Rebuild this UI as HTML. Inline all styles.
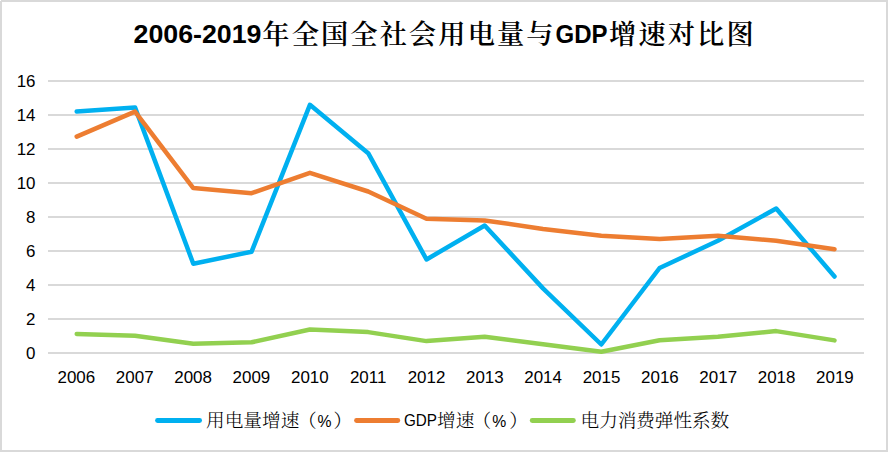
<!DOCTYPE html>
<html lang="zh-CN">
<head>
<meta charset="utf-8">
<title>2006-2019年全国全社会用电量与GDP增速对比图</title>
<style>
html,body{margin:0;padding:0;background:#fff;}
body{width:888px;height:452px;overflow:hidden;}
svg{display:block;}
.lat{font-family:"Liberation Sans",sans-serif;}
.cjk{font-family:"Liberation Serif","Noto Serif CJK SC",serif;}
</style>
</head>
<body>
<svg width="888" height="452" viewBox="0 0 888 452">
<rect x="0" y="0" width="888" height="452" fill="#ffffff"/>
<rect x="1" y="1" width="886" height="450" fill="none" stroke="#d9d9d9" stroke-width="2"/>
<rect x="0" y="0" width="1" height="1" fill="#ffffff"/>

<g stroke="#d9d9d9" stroke-width="2">
<line x1="48" y1="353.0" x2="864" y2="353.0"/>
<line x1="48" y1="319.0" x2="864" y2="319.0"/>
<line x1="48" y1="285.0" x2="864" y2="285.0"/>
<line x1="48" y1="251.0" x2="864" y2="251.0"/>
<line x1="48" y1="217.0" x2="864" y2="217.0"/>
<line x1="48" y1="183.0" x2="864" y2="183.0"/>
<line x1="48" y1="149.0" x2="864" y2="149.0"/>
<line x1="48" y1="115.0" x2="864" y2="115.0"/>
<line x1="48" y1="81.0" x2="864" y2="81.0"/>
</g>
<g class="lat" font-size="16" fill="#000" text-anchor="end">
<text transform="translate(35.5,358.7) scale(1.06,1)">0</text>
<text transform="translate(35.5,324.7) scale(1.06,1)">2</text>
<text transform="translate(35.5,290.7) scale(1.06,1)">4</text>
<text transform="translate(35.5,256.7) scale(1.06,1)">6</text>
<text transform="translate(35.5,222.7) scale(1.06,1)">8</text>
<text transform="translate(35.5,188.7) scale(1.06,1)">10</text>
<text transform="translate(35.5,154.7) scale(1.06,1)">12</text>
<text transform="translate(35.5,120.7) scale(1.06,1)">14</text>
<text transform="translate(35.5,86.7) scale(1.06,1)">16</text>
</g>
<g class="lat" font-size="16" fill="#000" text-anchor="middle">
<text transform="translate(76.3,383) scale(1.06,1)">2006</text>
<text transform="translate(134.7,383) scale(1.06,1)">2007</text>
<text transform="translate(193.1,383) scale(1.06,1)">2008</text>
<text transform="translate(251.4,383) scale(1.06,1)">2009</text>
<text transform="translate(309.8,383) scale(1.06,1)">2010</text>
<text transform="translate(368.1,383) scale(1.06,1)">2011</text>
<text transform="translate(426.5,383) scale(1.06,1)">2012</text>
<text transform="translate(484.8,383) scale(1.06,1)">2013</text>
<text transform="translate(543.1,383) scale(1.06,1)">2014</text>
<text transform="translate(601.5,383) scale(1.06,1)">2015</text>
<text transform="translate(659.9,383) scale(1.06,1)">2016</text>
<text transform="translate(718.2,383) scale(1.06,1)">2017</text>
<text transform="translate(776.6,383) scale(1.06,1)">2018</text>
<text transform="translate(834.9,383) scale(1.06,1)">2019</text>
</g>
<g fill="none" stroke-width="4.5" stroke-linecap="round" stroke-linejoin="round">
<polyline stroke="#00b0f0" points="76.7,111.6 135.0,107.4 193.3,263.8 251.6,251.7 309.9,104.8 368.2,153.2 426.5,259.5 484.7,225.5 543.0,288.4 601.3,344.5 659.6,268.0 717.9,240.8 776.2,208.5 834.5,276.5"/>
<polyline stroke="#ed7d31" points="76.7,136.6 135.0,111.6 193.3,188.1 251.6,193.2 309.9,172.8 368.2,191.5 426.5,218.7 484.7,220.4 543.0,228.9 601.3,235.7 659.6,239.1 717.9,235.7 776.2,240.8 834.5,249.3"/>
<polyline stroke="#92d050" points="76.7,334.0 135.0,335.8 193.3,343.8 251.6,342.3 309.9,329.5 368.2,332.1 426.5,341.1 484.7,336.7 543.0,344.2 601.3,351.8 659.6,340.2 717.9,336.7 776.2,331.1 834.5,340.4"/>
</g>
<g fill="#000">
<text class="lat" x="133.5" y="43.0" font-size="25.6" font-weight="bold" textLength="128" lengthAdjust="spacingAndGlyphs">2006-2019</text>
<text class="cjk" x="275.97 305.30 334.62 363.96 393.29 422.62 451.95 481.28 510.61 539.93" y="44.0" font-size="27.2" font-weight="600" text-anchor="middle">年全国全社会用电量与</text>
<text class="lat" x="555.6" y="43.0" font-size="25" font-weight="bold" textLength="52" lengthAdjust="spacingAndGlyphs">GDP</text>
<text class="cjk" x="622.66 652.00 681.32 710.65 739.98" y="44.0" font-size="27.2" font-weight="600" text-anchor="middle">增速对比图</text>
</g>
<g fill="none" stroke-width="4.8" stroke-linecap="round">
<line x1="157.5" y1="420.5" x2="199.6" y2="420.5" stroke="#00b0f0"/>
<line x1="356.5" y1="420.5" x2="397.8" y2="420.5" stroke="#ed7d31"/>
<line x1="532.2" y1="420.5" x2="573.4" y2="420.5" stroke="#92d050"/>
</g>
<g fill="#000" font-size="18.67" font-weight="300">
<text class="cjk" x="206" y="427">用电量增速</text>
<text class="cjk" x="297.9" y="427">（</text>
<text class="lat" x="317.5" y="427.2" font-size="17" textLength="14" lengthAdjust="spacingAndGlyphs">%</text>
<text class="cjk" x="333.6" y="427">）</text>
<text class="lat" x="404" y="426.4" font-size="16.5" textLength="33" lengthAdjust="spacingAndGlyphs">GDP</text>
<text class="cjk" x="437.1" y="427">增速</text>
<text class="cjk" x="472.6" y="427">（</text>
<text class="lat" x="492.2" y="427.2" font-size="17" textLength="14" lengthAdjust="spacingAndGlyphs">%</text>
<text class="cjk" x="509.2" y="427">）</text>
<text class="cjk" x="580.6" y="427" textLength="148.6" lengthAdjust="spacing">电力消费弹性系数</text>
</g>

</svg>
</body>
</html>
